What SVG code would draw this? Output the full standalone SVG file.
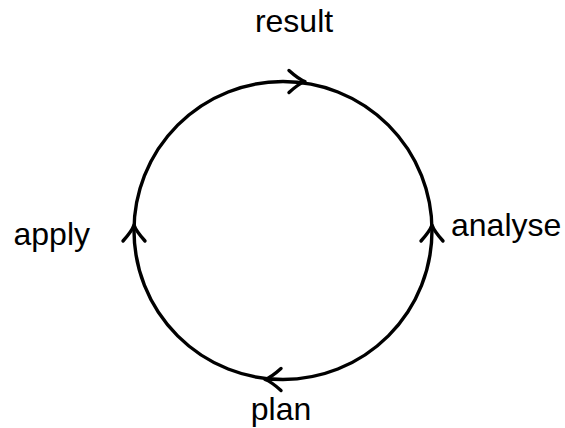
<svg xmlns="http://www.w3.org/2000/svg" xmlns:xlink="http://www.w3.org/1999/xlink" width="565" height="428" viewBox="0 0 565 428">
<style>
.lbl{font-family:"Liberation Sans",Arial,sans-serif;font-size:32px;fill:#000}
.ln{fill:none;stroke:#000;stroke-width:3.4;stroke-linecap:round;stroke-linejoin:round}
</style>
<defs>
<path id="chev" class="ln" d="M-16,-11 Q-6,-2 0,0 Q-6,2 -16,11"/>
</defs>
<rect width="565" height="428" fill="#fff"/>
<g id="connectors">
<circle class="ln" cx="283" cy="230.5" r="149"/>
<use xlink:href="#chev" transform="translate(305,81.5)"/>
<use xlink:href="#chev" transform="translate(432,225) rotate(-90)"/>
<use xlink:href="#chev" transform="translate(134,225) rotate(-90)"/>
<use xlink:href="#chev" transform="translate(265,379.5) rotate(180)"/>
</g>
<g id="result"><text class="lbl" x="294" y="32" text-anchor="middle">result</text></g>
<g id="analyse"><text class="lbl" x="451" y="236">analyse</text></g>
<g id="apply"><text class="lbl" x="90" y="245" text-anchor="end">apply</text></g>
<g id="plan"><text class="lbl" x="281" y="420" text-anchor="middle">plan</text></g>
</svg>
